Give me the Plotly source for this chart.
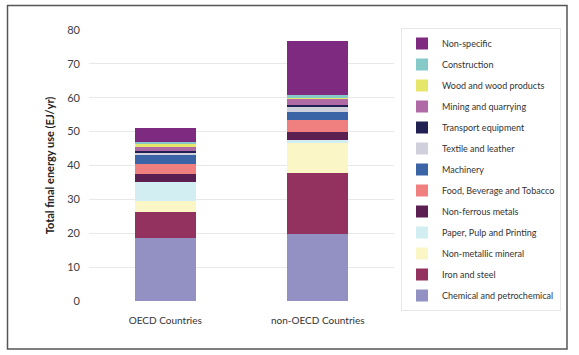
import plotly.graph_objects as go

categories = ["OECD Countries", "non-OECD Countries"]

sectors = [
    "Chemical and petrochemical",
    "Iron and steel",
    "Non-metallic mineral",
    "Paper, Pulp and Printing",
    "Non-ferrous metals",
    "Food, Beverage and Tobacco",
    "Machinery",
    "Textile and leather",
    "Transport equipment",
    "Mining and quarrying",
    "Wood and wood products",
    "Construction",
    "Non-specific",
]

chemical = [18.5, 19.8]
iron_steel = [7.7, 18.1]
non_metallic = [3.4, 8.8]
paper = [5.6, 0.8]
non_ferrous = [2.2, 2.4]
food = [2.9, 3.4]
machinery = [2.7, 2.5]
textile = [0.8, 1.6]
transport = [0.5, 0.4]
mining = [1.2, 1.9]
wood = [0.8, 0.3]
construction = [0.6, 0.8]
non_specific = [4.3, 16.0]

values = [chemical, iron_steel, non_metallic, paper, non_ferrous, food,
          machinery, textile, transport, mining, wood, construction, non_specific]

colors = ["#9391c3", "#93315f", "#fbf6c6", "#d3eef2", "#5b1f52", "#f08080",
          "#3b64a6", "#cfd0dc", "#202152", "#b06aa6", "#e6e66a", "#86c9c9", "#7d2a80"]

y_ticks = [0, 10, 20, 30, 40, 50, 60, 70, 80]

fig = go.Figure()
n = len(sectors)
for i, (name, vals, col) in enumerate(zip(sectors, values, colors)):
    fig.add_trace(go.Bar(
        x=categories, y=vals, name=name,
        marker=dict(color=col, line=dict(width=0)),
        legendgroup=f"g{i}",
        legendrank=100 + (n - i),
    ))

W, H = 579, 355
L, R, T, B = 89, 185, 30, 54
pw = W - L - R
ph = H - T - B

def px_x(x):
    return (x - L) / pw

def px_y(y):
    return (H - B - y) / ph

fig.update_layout(
    width=W, height=H,
    margin=dict(l=L, r=R, t=T, b=B, autoexpand=False),
    barmode="stack",
    bargap=0.6,
    paper_bgcolor="white",
    plot_bgcolor="white",
    font=dict(family="Lato", color="#333333"),
    showlegend=True,
    legend=dict(
        traceorder="grouped",
        x=px_x(401), xanchor="left",
        y=px_y(28), yanchor="top",
        bordercolor="#e6e6e6", borderwidth=1,
        font=dict(size=9, family="Lato", color="#333333"),
        tracegroupgap=2,
        itemwidth=30,
        maxheight=1,
    ),
    xaxis=dict(
        showgrid=False, showline=False, ticks="",
        tickfont=dict(size=10, color="#333333"),
        ticklabelstandoff=12,
    ),
    yaxis=dict(
        range=[0, 80], tickvals=y_ticks,
        showgrid=True, gridcolor="#e8e8e8", gridwidth=1,
        zeroline=False, showline=False, ticks="",
        tickfont=dict(size=11, color="#404040"),
        ticklabelstandoff=8,
        title=dict(text="<b>Total final energy use (EJ/yr)</b>",
                   font=dict(size=11, color="#222222"), standoff=10),
    ),
    shapes=[dict(
        type="rect", xref="paper", yref="paper",
        x0=px_x(7.5), x1=px_x(567), y0=px_y(349), y1=px_y(5.5),
        line=dict(color="#555555", width=1.5),
        layer="above",
    )],
)

fig.write_html("out.html",
               config={"displayModeBar": False},
               post_script="document.body.style.margin='0px';document.body.style.overflow='hidden';")
